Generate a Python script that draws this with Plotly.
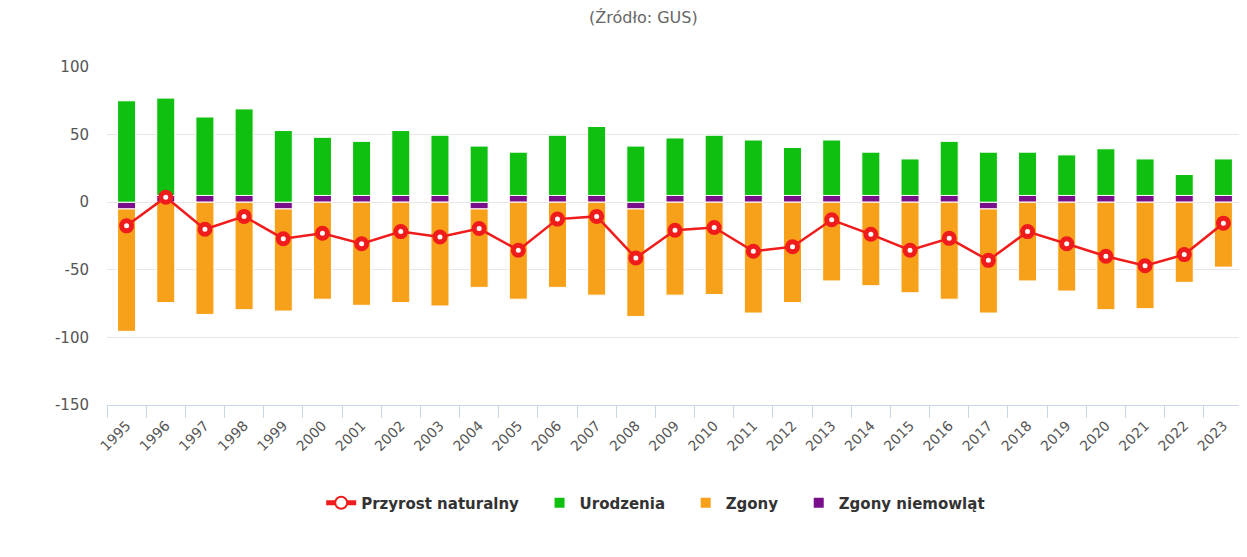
import plotly.graph_objects as go

years = [str(y) for y in range(1995, 2024)]

urodzenia = [75, 72, 58, 64, 53, 43, 40, 48, 44.5, 41.5, 32, 44.5, 51, 41.5, 42.5,
             44.5, 41, 35.5, 41, 32, 27, 40, 37, 32, 30, 34.5, 27, 15.5, 27]
zgony = [-90.5, -74.25, -83, -79.5, -75.5, -71.75, -76.25, -74.25, -76.75, -58, -71.75,
         -63, -68.75, -79.5, -68.75, -68.25, -82, -74.25, -58.25, -61.75, -67, -71.75,
         -77, -58.25, -65.75, -79.5, -78.75, -59.25, -48]
zgony_niemowlat = [-5, 5, 5, 5, -5, 5, 5, 5, 5, -5, 5, 5, 5, -5, 5,
                   5, 5, 5, 5, 5, 5, 5, -5, 5, 5, 5, 5, 5, 5]
przyrost = [-17.5, 3.75, -20, -10.5, -27, -23, -30.75, -21.75, -25.75, -19.5, -35.5,
            -12.5, -10.5, -41.25, -20.75, -18.75, -36.25, -33, -13, -23.75, -35.5,
            -26.75, -43, -21.75, -30.75, -40, -47, -38.75, -15.5]

y_tickvals = [-150, -100, -50, 0, 50, 100]
y_ticktext = ["-150", "-100", "-50", "0", "50", "100"]

FONT = "DejaVu Sans, Verdana, sans-serif"
PAD = "\u00a0" * 3

fig = go.Figure()
fig.add_trace(go.Bar(x=years, y=zgony_niemowlat, name="Zgony niemowląt",
                     marker=dict(color="#7a0f8c", line=dict(color="white", width=1)),
                     legendrank=4))
fig.add_trace(go.Bar(x=years, y=urodzenia, name="Urodzenia" + PAD,
                     marker=dict(color="#10c010", line=dict(color="white", width=1)),
                     legendrank=2))
fig.add_trace(go.Bar(x=years, y=zgony, name="Zgony" + PAD,
                     marker=dict(color="#f7a01a", line=dict(color="white", width=1)),
                     legendrank=3))
fig.add_trace(go.Scatter(x=years, y=przyrost, name="Przyrost naturalny" + PAD,
                         mode="lines+markers",
                         line=dict(color="#f01c1c", width=2.5),
                         marker=dict(symbol="circle", size=10, color="white",
                                     line=dict(color="#f01c1c", width=5)),
                         legendrank=1))

fig.update_layout(
    width=1239, height=549,
    margin=dict(l=99, r=4, t=59, b=152, autoexpand=False),
    paper_bgcolor="white", plot_bgcolor="white",
    barmode="relative", bargap=0.54,
    font=dict(family=FONT, color="#666666", size=13),
    showlegend=True,
    legend=dict(orientation="h", x=0.483, xanchor="center", y=-0.29, yanchor="middle",
                font=dict(size=15, color="#333333", weight="bold"), traceorder="normal",
                itemsizing="constant", itemwidth=30),
    annotations=[dict(text="(Źródło: GUS)", xref="paper", yref="paper",
                      x=0.472, y=1.145, xanchor="center", yanchor="middle",
                      showarrow=False, font=dict(size=16, color="#666666"))],
)
fig.update_yaxes(range=[-150, 100], tickvals=y_tickvals, ticktext=y_ticktext,
                 gridcolor="#e6e6e6", gridwidth=1, zeroline=False, automargin=False,
                 ticks="", tickfont=dict(size=15, color="#555555"), ticklabelstandoff=17)
fig.update_xaxes(type="category", range=[-0.5, 28.5], tickangle=-45, showline=True,
                 linecolor="#ccd6eb", linewidth=1, ticks="outside", ticklen=12,
                 tickcolor="#ccd6eb", tickson="boundaries", showgrid=False,
                 automargin=False, ticklabelstandoff=6,
                 tickfont=dict(size=14, color="#555555"))

fig.write_html("out.html")
